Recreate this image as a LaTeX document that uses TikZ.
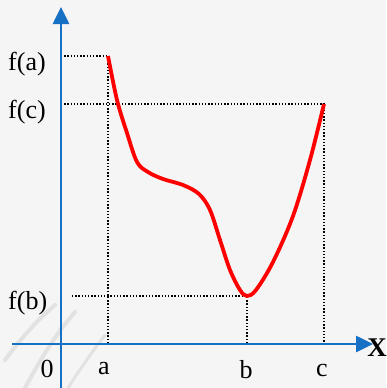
\documentclass[tikz,border=0pt]{standalone}
\usepackage{fontspec}
\setmainfont{Liberation Serif}
\usetikzlibrary{arrows.meta}
\definecolor{axisblue}{RGB}{22,112,196}
\definecolor{bggray}{RGB}{245,245,245}
\tikzset{
  axis/.style={draw=axisblue, line width=2.6pt, -{Triangle[length=17pt,width=16pt]}},
  guide/.style={draw=black, line width=1.4pt, dash pattern=on 1.4pt off 1.8pt},
  curve/.style={draw=red, line width=3.8pt, line join=round},
  lbl/.style={font=\fontsize{26}{29}\selectfont, inner sep=0pt},
  texture/.style={draw=black!25, line width=4pt, line cap=round, opacity=0.35}
}
\begin{document}
\begin{tikzpicture}[x=1pt,y=-1pt]
\useasboundingbox (0,0) rectangle (386,388);
\fill[bggray] (0,0) rectangle (386,388);
% faint background texture, bottom left
\draw[texture] (25,388) .. controls (40,360) and (55,335) .. (75,312);
\draw[texture] (5,360) .. controls (20,340) and (35,322) .. (55,305);
\draw[texture, line width=3pt] (68,388) .. controls (78,372) and (92,352) .. (105,335);
% coordinates
\coordinate (O) at (61,344);
\coordinate (ya) at (61,56);
\coordinate (yc) at (61,104);
\coordinate (yb) at (72,296);
\coordinate (pa) at (108,56);
\coordinate (pb) at (247,296);
\coordinate (pc) at (324,104);
\coordinate (xa) at (108,344);
\coordinate (xb) at (247,344);
\coordinate (xc) at (324,344);
\coordinate (ybot) at (61,388);
\coordinate (ytop) at (61,7);
\coordinate (xleft) at (12,344);
\coordinate (xright) at (373,344);
% guides
\draw[guide] (ya) -- (pa) -- (xa);
\draw[guide] (yc) -- (pc) -- (xc);
\draw[guide] (yb) -- (pb) -- (xb);
% axes
\draw[axis] (ybot) -- (ytop);
\draw[axis] (xleft) -- (xright);
% curve
\draw[curve] plot[smooth, tension=0.55] coordinates {
 (108,56) (117,100) (127,133) (137,162) (148,172) (163,179) (183,185) (199,194)
 (210,210) (220,240) (230,270) (240,290) (247,296) (256,290) (273,262)
 (293,216) (310,160) (324,104)};
% labels
\node[lbl, anchor=base west] (lfa) at (8,70) {f(a)};
\node[lbl, anchor=base west] (lfc) at (8,118) {f(c)};
\node[lbl, anchor=base west] (lfb) at (8,309) {f(b)};
\node[lbl, anchor=base] (l0) at (47,377) {0};
\node[lbl, anchor=base] (la) at (104,374) {a};
\node[lbl, anchor=base] (lb) at (246,378) {b};
\node[lbl, anchor=base] (lc) at (322,376) {c};
\node[lbl, anchor=base, font=\fontsize{27}{29}\selectfont\bfseries] (lx) at (377,356) {X};
\end{tikzpicture}
\end{document}
